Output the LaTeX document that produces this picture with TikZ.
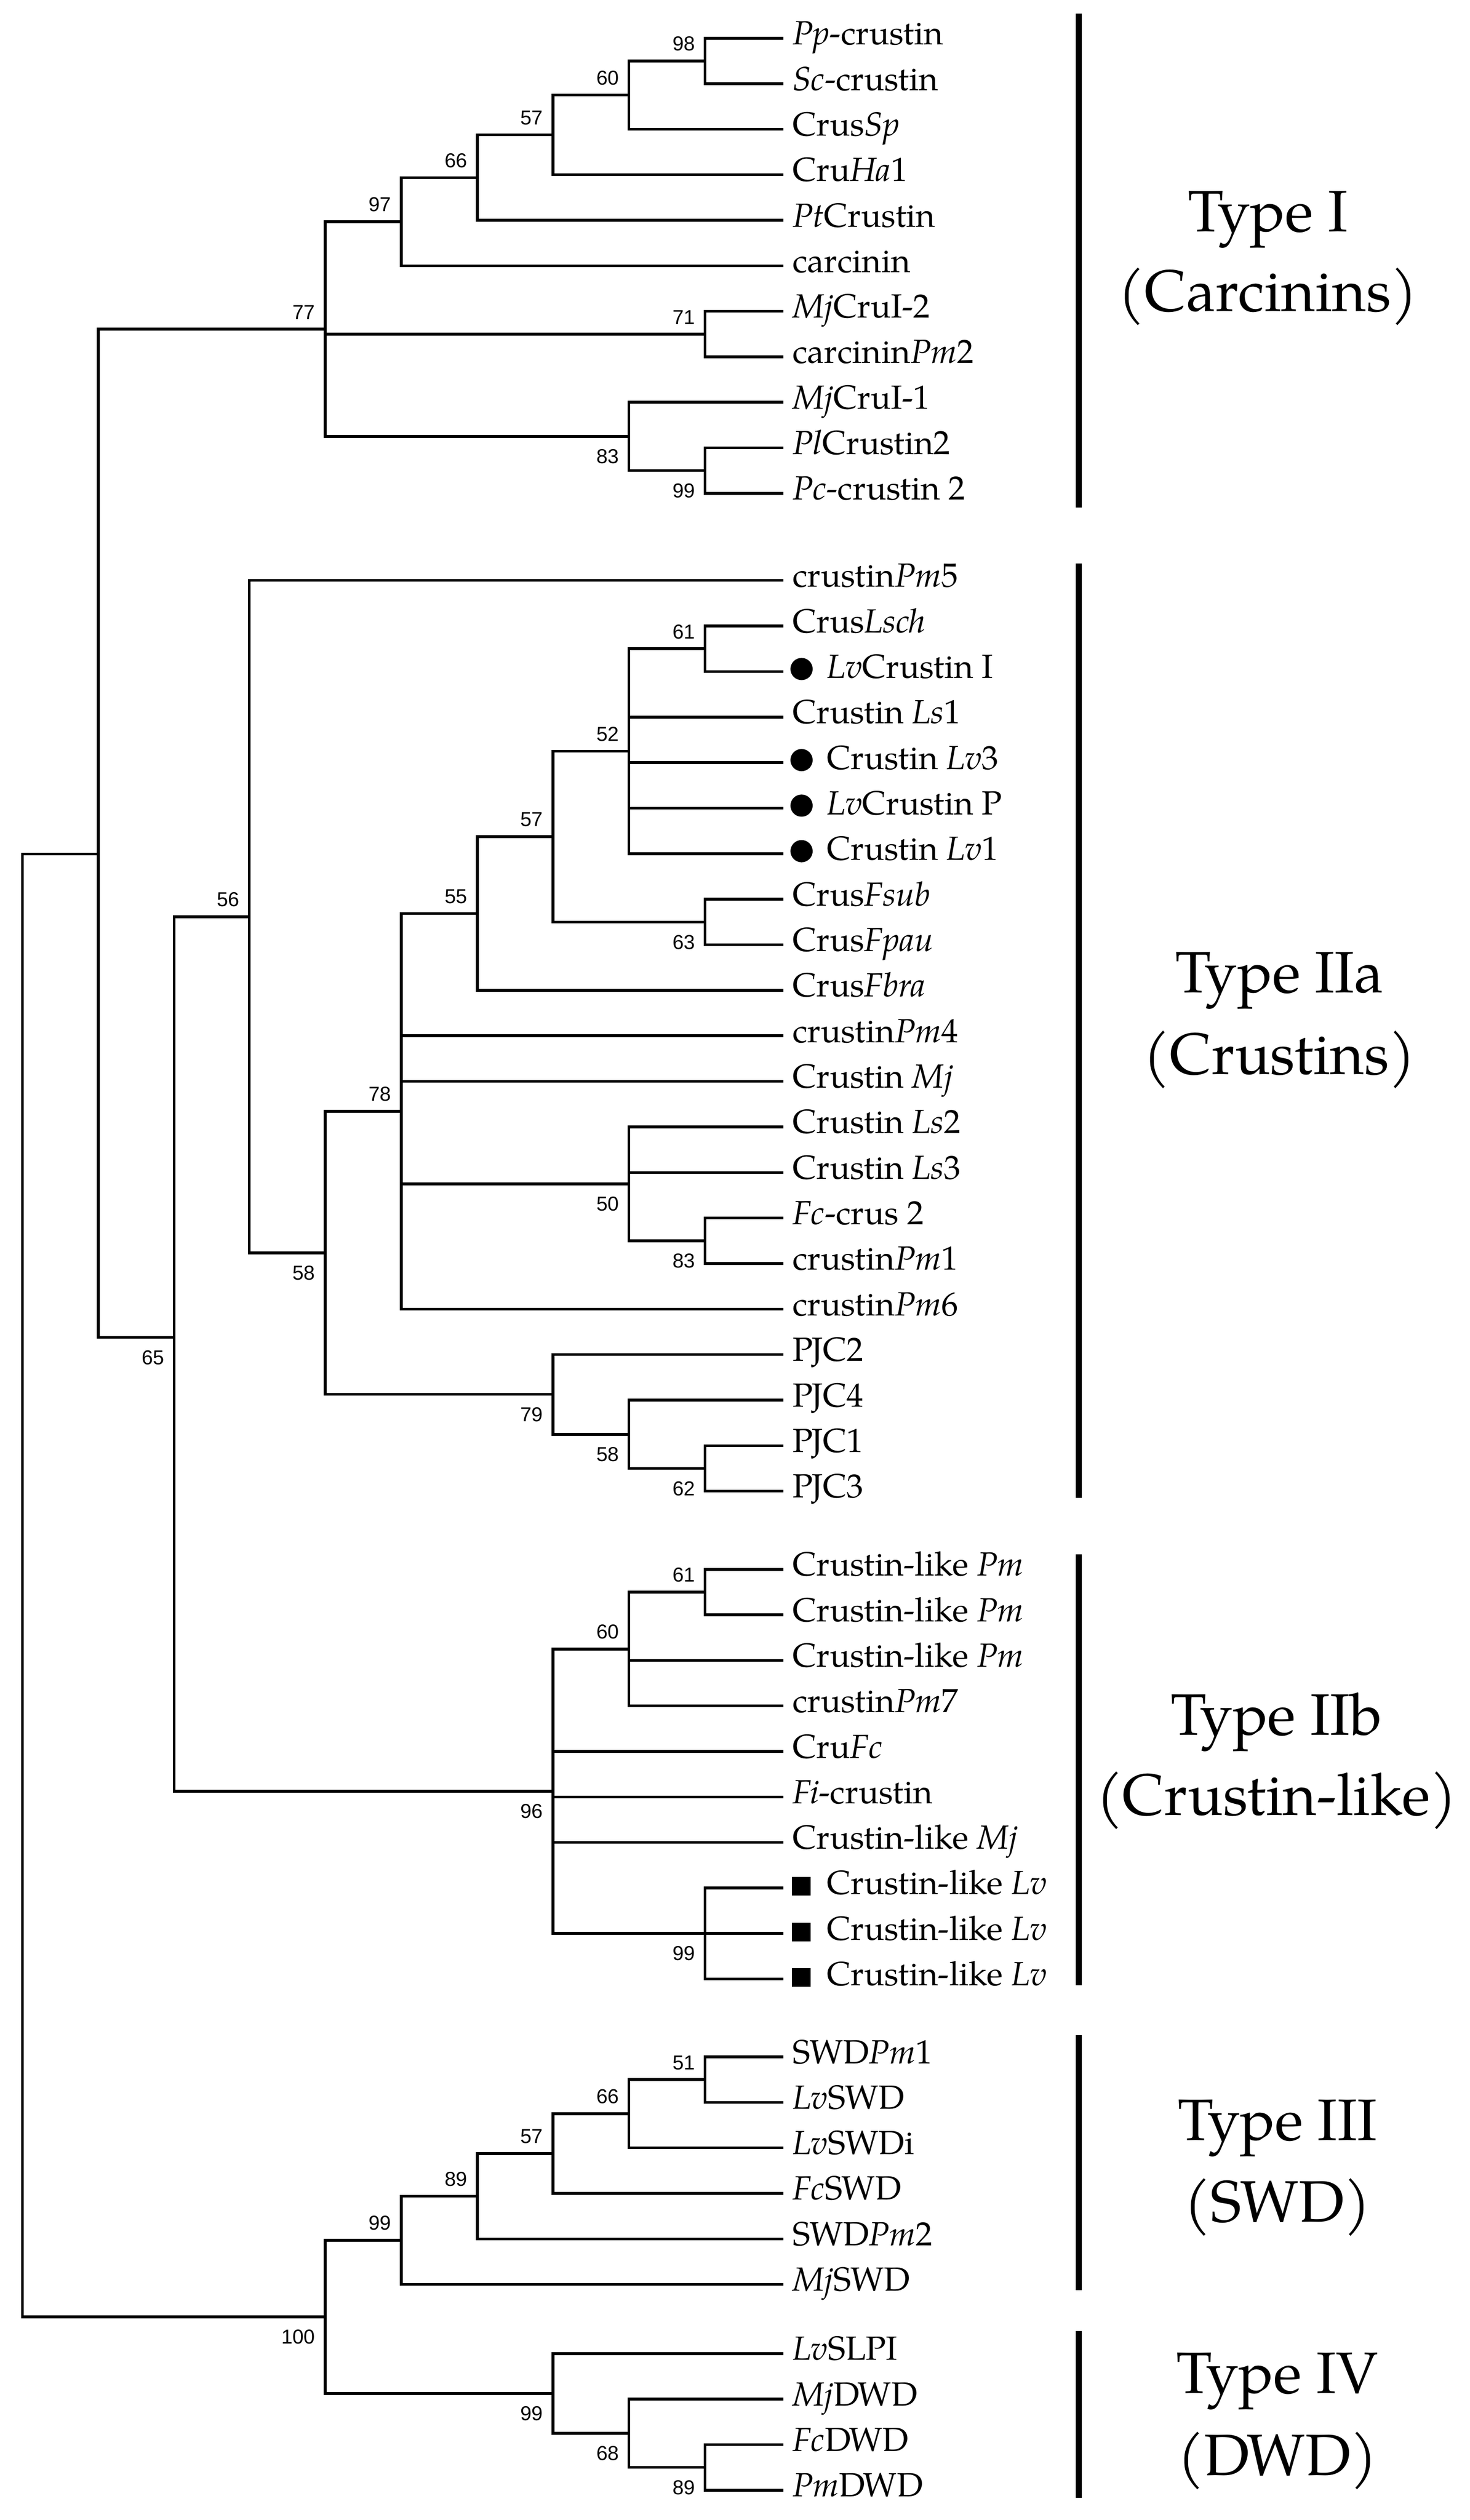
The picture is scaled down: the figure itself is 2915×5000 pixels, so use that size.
\documentclass[tikz,border=0pt]{standalone}
\usepackage{fontspec}
\setmainfont{TeX Gyre Pagella}
\newfontfamily\bsfam{Liberation Sans}
\newcommand\leaffont{\fontsize{18.9}{22}\selectfont}
\newcommand\grpfont{\fontsize{33}{40}\selectfont}
\newcommand\bsfont{\bsfam\fontsize{11.4}{13}\selectfont}
\newcommand\clade[4]{%
  \draw[tree] (#1|-#2) -- (#1|-#3);
  \foreach \c in {#4} {\draw[tree] (#1|-\c) -- (\c);}%
}
\begin{document}
\begin{tikzpicture}[x=0.01cm, y=-0.01cm,
  tree/.style={line width=1.565pt, line cap=rect},
  leaf/.style={anchor=base west, inner sep=0pt, outer sep=0pt, xshift=0.21cm, yshift=-0.13cm, font=\leaffont},
  leafb/.style={anchor=base west, inner sep=0pt, outer sep=0pt, xshift=0.89cm, yshift=-0.13cm, font=\leaffont},
  dot/.style={circle, fill=black, draw=none, inner sep=0pt, minimum size=0.44cm, xshift=0.39cm, yshift=0.05cm},
  sqr/.style={rectangle, fill=black, draw=none, inner sep=0pt, minimum size=0.37cm, xshift=0.385cm, yshift=0.03cm},
  bsa/.style={font=\bsfont, inner sep=0pt, anchor=south east, xshift=-0.19cm, yshift=0.19cm},
  bsb/.style={font=\bsfont, inner sep=0pt, anchor=north east, xshift=-0.19cm, yshift=-0.25cm},
  grp/.style={font=\grpfont, inner sep=0pt, anchor=base},
  bar/.style={line width=3.56pt}]
\fill[white] (0,0) rectangle (2915,5000);
\useasboundingbox (0,0) rectangle (2915,5000);

% ---------- leaves ----------
\coordinate (L1) at (1551,75.8);
\coordinate (L2) at (1551,166.1);
\coordinate (L3) at (1551,256.4);
\coordinate (L4) at (1551,346.7);
\coordinate (L5) at (1551,437.0);
\coordinate (L6) at (1551,527.3);
\coordinate (L7) at (1551,617.6);
\coordinate (L8) at (1551,707.9);
\coordinate (L9) at (1551,798.2);
\coordinate (L10) at (1551,888.5);
\coordinate (L11) at (1551,978.8);
\coordinate (L12) at (1551,1151.7);
\coordinate (L13) at (1551,1242.05);
\coordinate (L14) at (1551,1332.4);
\coordinate (L15) at (1551,1422.75);
\coordinate (L16) at (1551,1513.1);
\coordinate (L17) at (1551,1603.45);
\coordinate (L18) at (1551,1693.8);
\coordinate (L19) at (1551,1784.15);
\coordinate (L20) at (1551,1874.5);
\coordinate (L21) at (1551,1964.85);
\coordinate (L22) at (1551,2055.2);
\coordinate (L23) at (1551,2145.55);
\coordinate (L24) at (1551,2235.9);
\coordinate (L25) at (1551,2326.25);
\coordinate (L26) at (1551,2416.6);
\coordinate (L27) at (1551,2506.95);
\coordinate (L28) at (1551,2597.3);
\coordinate (L29) at (1551,2687.65);
\coordinate (L30) at (1551,2778.0);
\coordinate (L31) at (1551,2868.35);
\coordinate (L32) at (1551,2958.7);
\coordinate (L33) at (1551,3113.8);
\coordinate (L34) at (1551,3204.1);
\coordinate (L35) at (1551,3294.4);
\coordinate (L36) at (1551,3384.7);
\coordinate (L37) at (1551,3475.0);
\coordinate (L38) at (1551,3565.3);
\coordinate (L39) at (1551,3655.6);
\coordinate (L40) at (1551,3745.9);
\coordinate (L41) at (1551,3836.2);
\coordinate (L42) at (1551,3926.5);
\coordinate (L43) at (1551,4081.0);
\coordinate (L44) at (1551,4171.3);
\coordinate (L45) at (1551,4261.6);
\coordinate (L46) at (1551,4351.9);
\coordinate (L47) at (1551,4442.2);
\coordinate (L48) at (1551,4532.5);
\coordinate (L49) at (1551,4669.8);
\coordinate (L50) at (1551,4760.1);
\coordinate (L51) at (1551,4850.4);
\coordinate (L52) at (1551,4940.7);

% ---------- internal nodes ----------
\coordinate (R) at (44.5,3145.6);
\coordinate (A) at (195,1694.3);
\coordinate (N77) at (645,652.9);
\coordinate (N97) at (796,439.8);
\coordinate (N66a) at (947,352.4);
\coordinate (N57a) at (1097,267.7);
\coordinate (N60a) at (1247.5,188.7);
\coordinate (N98) at (1398.5,120.95);
\coordinate (N71) at (1398.5,662.75);
\coordinate (N83a) at (1247.5,865.9);
\coordinate (N99a) at (1398.5,933.65);
\coordinate (N65) at (345.5,2653.3);
\coordinate (N56) at (494.5,1818.75);
\coordinate (N58a) at (645,2485.8);
\coordinate (N78) at (796,2204.85);
\coordinate (N55) at (947,1812.4);
\coordinate (N57b) at (1097,1659.9);
\coordinate (N52) at (1247.5,1490.5);
\coordinate (N61a) at (1398.5,1287.2);
\coordinate (N63) at (1398.5,1829.3);
\coordinate (N50) at (1247.5,2348.85);
\coordinate (N83b) at (1398.5,2461.8);
\coordinate (N79) at (1097,2766.7);
\coordinate (N58b) at (1247.5,2845.8);
\coordinate (N62) at (1398.5,2913.5);
\coordinate (N96) at (1097,3554);
\coordinate (N60b) at (1247.5,3271.8);
\coordinate (N61b) at (1398.5,3158.95);
\coordinate (N99b) at (1398.5,3836.2);
\coordinate (N100) at (645,4596.9);
\coordinate (N99c) at (796,4445);
\coordinate (N89a) at (947,4357.55);
\coordinate (N57c) at (1097,4272.9);
\coordinate (N66b) at (1247.5,4193.9);
\coordinate (N51) at (1398.5,4126.15);
\coordinate (N99d) at (1097,4748.8);
\coordinate (N68) at (1247.5,4827.8);
\coordinate (N89b) at (1398.5,4895.55);

% ---------- branches ----------
\clade{R}{A}{N100}{A,N100}
\clade{A}{N77}{N65}{N77,N65}
\clade{N77}{N97}{N83a}{N97,N71,N83a}
\clade{N97}{N66a}{L6}{N66a,L6}
\clade{N66a}{N57a}{L5}{N57a,L5}
\clade{N57a}{N60a}{L4}{N60a,L4}
\clade{N60a}{N98}{L3}{N98,L3}
\clade{N98}{L1}{L2}{L1,L2}
\clade{N71}{L7}{L8}{L7,L8}
\clade{N83a}{L9}{N99a}{L9,N99a}
\clade{N99a}{L10}{L11}{L10,L11}
\clade{N65}{N56}{N96}{N56,N96}
\clade{N56}{L12}{N58a}{L12,N58a}
\clade{N58a}{N78}{N79}{N78,N79}
\clade{N78}{N55}{L28}{N55,L22,L23,N50,L28}
\clade{N55}{N57b}{L21}{N57b,L21}
\clade{N57b}{N52}{N63}{N52,N63}
\clade{N52}{N61a}{L18}{N61a,L15,L16,L17,L18}
\clade{N61a}{L13}{L14}{L13,L14}
\clade{N63}{L19}{L20}{L19,L20}
\clade{N50}{L24}{N83b}{L24,L25,N83b}
\clade{N83b}{L26}{L27}{L26,L27}
\clade{N79}{L29}{N58b}{L29,N58b}
\clade{N58b}{L30}{N62}{L30,N62}
\clade{N62}{L31}{L32}{L31,L32}
\clade{N96}{N60b}{N99b}{N60b,L37,L38,L39,N99b}
\clade{N60b}{N61b}{L36}{N61b,L35,L36}
\clade{N61b}{L33}{L34}{L33,L34}
\clade{N99b}{L40}{L42}{L40,L41,L42}
\clade{N100}{N99c}{N99d}{N99c,N99d}
\clade{N99c}{N89a}{L48}{N89a,L48}
\clade{N89a}{N57c}{L47}{N57c,L47}
\clade{N57c}{N66b}{L46}{N66b,L46}
\clade{N66b}{N51}{L45}{N51,L45}
\clade{N51}{L43}{L44}{L43,L44}
\clade{N99d}{L49}{N68}{L49,N68}
\clade{N68}{L50}{N89b}{L50,N89b}
\clade{N89b}{L51}{L52}{L51,L52}

% ---------- bootstrap values ----------
\node[bsa] (b98) at (N98) {98};
\node[bsa] (b60a) at (N60a) {60};
\node[bsa] (b57a) at (N57a) {57};
\node[bsa] (b66a) at (N66a) {66};
\node[bsa] (b97) at (N97) {97};
\node[bsa] (b77) at (N77) {77};
\node[bsa] (b71) at (N71) {71};
\node[bsb] (b83a) at (N83a) {83};
\node[bsb] (b99a) at (N99a) {99};
\node[bsa] (b61a) at (N61a) {61};
\node[bsa] (b52) at (N52) {52};
\node[bsa] (b57b) at (N57b) {57};
\node[bsb] (b63) at (N63) {63};
\node[bsa] (b55) at (N55) {55};
\node[bsa] (b56) at (N56) {56};
\node[bsa] (b78) at (N78) {78};
\node[bsb] (b50) at (N50) {50};
\node[bsb] (b83b) at (N83b) {83};
\node[bsb] (b58a) at (N58a) {58};
\node[bsb] (b79) at (N79) {79};
\node[bsb] (b58b) at (N58b) {58};
\node[bsb] (b62) at (N62) {62};
\node[bsb] (b65) at (N65) {65};
\node[bsa] (b61b) at (N61b) {61};
\node[bsa] (b60b) at (N60b) {60};
\node[bsb] (b96) at (N96) {96};
\node[bsb] (b99b) at (N99b) {99};
\node[bsa] (b51) at (N51) {51};
\node[bsa] (b66b) at (N66b) {66};
\node[bsa] (b57c) at (N57c) {57};
\node[bsa] (b89a) at (N89a) {89};
\node[bsa] (b99c) at (N99c) {99};
\node[bsb] (b100) at (N100) {100};
\node[bsb] (b99d) at (N99d) {99};
\node[bsb] (b68) at (N68) {68};
\node[bsb] (b89b) at (N89b) {89};

% ---------- leaf labels ----------
\node[leaf] (t1) at (L1) {\textit{Pp}-crustin};
\node[leaf] (t2) at (L2) {\textit{Sc}-crustin};
\node[leaf] (t3) at (L3) {Crus\textit{Sp}};
\node[leaf] (t4) at (L4) {Cru\textit{Ha}1};
\node[leaf] (t5) at (L5) {\textit{Pt}Crustin};
\node[leaf] (t6) at (L6) {carcinin};
\node[leaf] (t7) at (L7) {\textit{Mj}CruI-2};
\node[leaf] (t8) at (L8) {carcinin\textit{Pm}2};
\node[leaf] (t9) at (L9) {\textit{Mj}CruI-1};
\node[leaf] (t10) at (L10) {\textit{Pl}Crustin2};
\node[leaf] (t11) at (L11) {\textit{Pc}-crustin 2};
\node[leaf] (t12) at (L12) {crustin\textit{Pm}5};
\node[leaf] (t13) at (L13) {Crus\textit{Lsch}};
\node[dot] (d14) at (L14) {};
\node[leafb] (t14) at (L14) {\textit{Lv}Crustin I};
\node[leaf] (t15) at (L15) {Crustin \textit{Ls}1};
\node[dot] (d16) at (L16) {};
\node[leafb] (t16) at (L16) {Crustin \textit{Lv}3};
\node[dot] (d17) at (L17) {};
\node[leafb] (t17) at (L17) {\textit{Lv}Crustin P};
\node[dot] (d18) at (L18) {};
\node[leafb] (t18) at (L18) {Crustin \textit{Lv}1};
\node[leaf] (t19) at (L19) {Crus\textit{Fsub}};
\node[leaf] (t20) at (L20) {Crus\textit{Fpau}};
\node[leaf] (t21) at (L21) {Crus\textit{Fbra}};
\node[leaf] (t22) at (L22) {crustin\textit{Pm}4};
\node[leaf] (t23) at (L23) {Crustin \textit{Mj}};
\node[leaf] (t24) at (L24) {Crustin \textit{Ls}2};
\node[leaf] (t25) at (L25) {Crustin \textit{Ls}3};
\node[leaf] (t26) at (L26) {\textit{Fc}-crus 2};
\node[leaf] (t27) at (L27) {crustin\textit{Pm}1};
\node[leaf] (t28) at (L28) {crustin\textit{Pm}6};
\node[leaf] (t29) at (L29) {PJC2};
\node[leaf] (t30) at (L30) {PJC4};
\node[leaf] (t31) at (L31) {PJC1};
\node[leaf] (t32) at (L32) {PJC3};
\node[leaf] (t33) at (L33) {Crustin-like \textit{Pm}};
\node[leaf] (t34) at (L34) {Crustin-like \textit{Pm}};
\node[leaf] (t35) at (L35) {Crustin-like \textit{Pm}};
\node[leaf] (t36) at (L36) {crustin\textit{Pm}7};
\node[leaf] (t37) at (L37) {Cru\textit{Fc}};
\node[leaf] (t38) at (L38) {\textit{Fi}-crustin};
\node[leaf] (t39) at (L39) {Crustin-like \textit{Mj}};
\node[sqr] (s40) at (L40) {};
\node[leafb] (t40) at (L40) {Crustin-like \textit{Lv}};
\node[sqr] (s41) at (L41) {};
\node[leafb] (t41) at (L41) {Crustin-like \textit{Lv}};
\node[sqr] (s42) at (L42) {};
\node[leafb] (t42) at (L42) {Crustin-like \textit{Lv}};
\node[leaf] (t43) at (L43) {SWD\textit{Pm}1};
\node[leaf] (t44) at (L44) {\textit{Lv}SWD};
\node[leaf] (t45) at (L45) {\textit{Lv}SWDi};
\node[leaf] (t46) at (L46) {\textit{Fc}SWD};
\node[leaf] (t47) at (L47) {SWD\textit{Pm}2};
\node[leaf] (t48) at (L48) {\textit{Mj}SWD};
\node[leaf] (t49) at (L49) {\textit{Lv}SLPI};
\node[leaf] (t50) at (L50) {\textit{Mj}DWD};
\node[leaf] (t51) at (L51) {\textit{Fc}DWD};
\node[leaf] (t52) at (L52) {\textit{Pm}DWD};

% ---------- group bars ----------
\coordinate (g1t) at (2140,26.7);   \coordinate (g1b) at (2140,1006.7);
\coordinate (g2t) at (2140,1118);   \coordinate (g2b) at (2140,2972);
\coordinate (g3t) at (2140,3084);   \coordinate (g3b) at (2140,3938.7);
\coordinate (g4t) at (2140,4038.4); \coordinate (g4b) at (2140,4544);
\coordinate (g5t) at (2140,4625);   \coordinate (g5b) at (2140,4956.4);
\draw[bar] (g1t) -- (g1b);
\draw[bar] (g2t) -- (g2b);
\draw[bar] (g3t) -- (g3b);
\draw[bar] (g4t) -- (g4b);
\draw[bar] (g5t) -- (g5b);

% ---------- group labels ----------
\node[grp] (G1a) at (2515,459.5) {Type I};
\node[grp] (G1b) at (2515,617.3) {(Carcinins)};
\node[grp] (G2a) at (2538,1969) {Type IIa};
\node[grp] (G2b) at (2538,2131) {(Crustins)};
\node[grp] (G3a) at (2532,3442.4) {Type IIb};
\node[grp] (G3b) at (2532,3601.9) {(Crustin-like)};
\node[grp] (G4a) at (2534,4246) {Type III};
\node[grp] (G4b) at (2534,4408.7) {(SWD)};
\node[grp] (G5a) at (2534,4748) {Type IV};
\node[grp] (G5b) at (2534,4911) {(DWD)};
\end{tikzpicture}
\end{document}
